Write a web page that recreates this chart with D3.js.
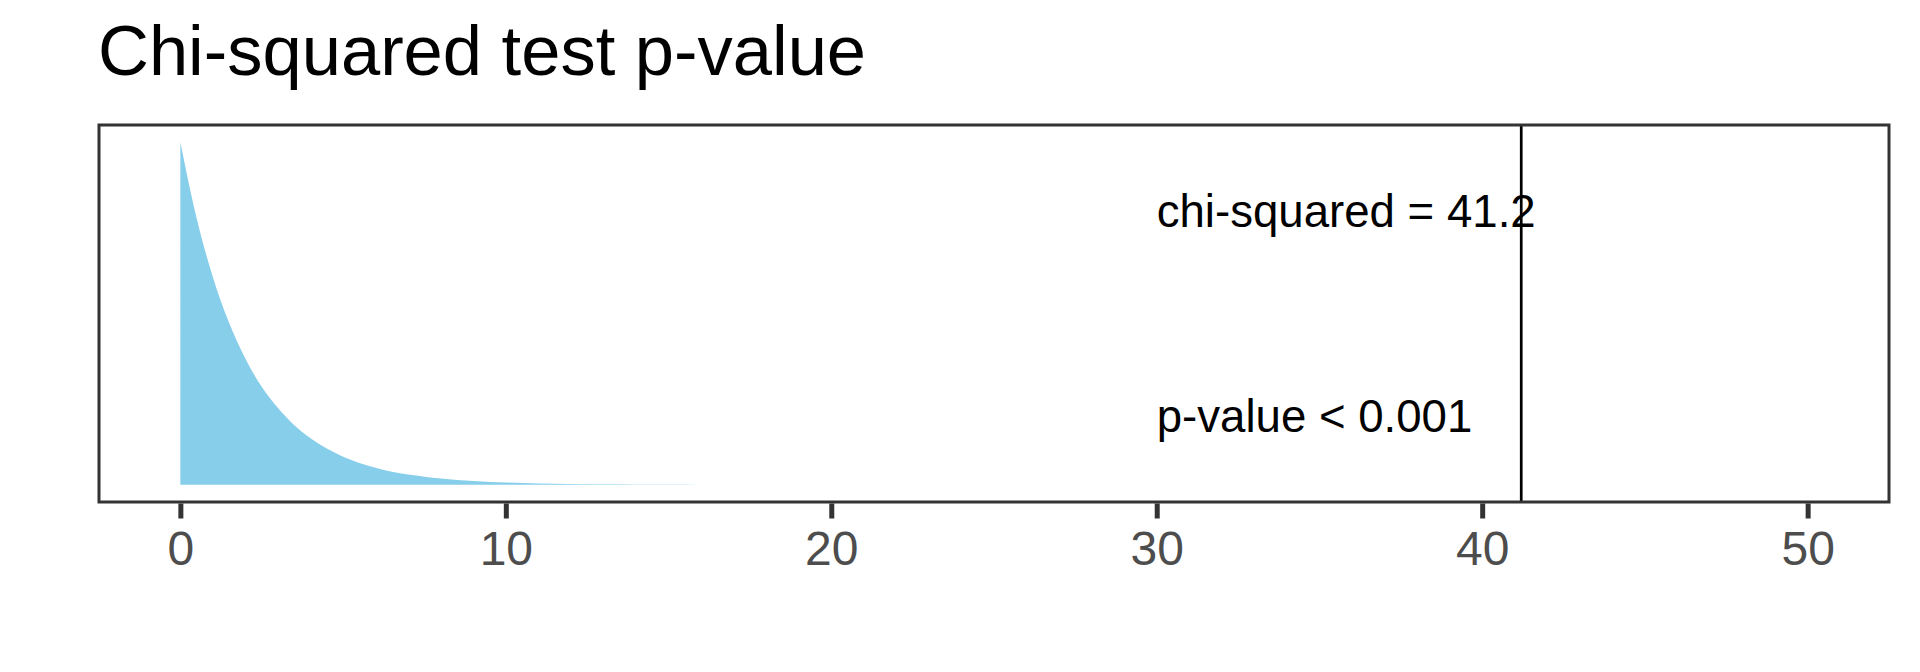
<!DOCTYPE html>
<html>
<head>
<meta charset="utf-8">
<script src="https://cdn.jsdelivr.net/npm/d3@7"></script>
<style>
  html, body { margin: 0; padding: 0; background: #fff; }
  svg { display: block; font-family: "Liberation Sans", Arial, Helvetica, sans-serif; }
</style>
</head>
<body>
<svg id="chart" width="1920" height="672"></svg>
<script>
// ---- data ----
const titleText = "Chi-squared test p-value";
const densityX = [0, 0.5, 1, 1.5, 2, 2.5, 3, 3.5, 4, 4.5, 5, 5.5, 6, 6.5, 7, 7.5, 8, 8.5, 9, 9.5, 10, 11, 12, 13, 14, 15, 16, 17, 18, 20, 25, 30, 40, 50];
const densityY = [0.5, 0.389, 0.303, 0.236, 0.184, 0.143, 0.112, 0.087, 0.068, 0.053, 0.041, 0.032, 0.025, 0.019, 0.015, 0.012, 0.0092, 0.0071, 0.0056, 0.0043, 0.0034, 0.0021, 0.0013, 0.0009, 0.0006, 0.0004, 0.0003, 0.0002, 0.00012, 0.00004, 0, 0, 0, 0];
const chiSquared = 41.2;
const annotations = [
  { x: 30, y: 0.4, label: "chi-squared = 41.2" },
  { x: 30, y: 0.1, label: "p-value < 0.001" }
];
const xTicks = [0, 10, 20, 30, 40, 50];
const xDomain = [-2.5, 52.5];
const yDomain = [-0.025, 0.525];

// ---- layout ----
const panel = { left: 99, right: 1889, top: 125, bottom: 502 };
const svg = d3.select("#chart");

const x = d3.scaleLinear().domain(xDomain).range([panel.left, panel.right]);
const y = d3.scaleLinear().domain(yDomain).range([panel.bottom, panel.top]);

const data = densityX.map((d, i) => ({ x: d, y: densityY[i] }));

// title
svg.append("text")
  .attr("x", 98)
  .attr("y", 75)
  .attr("font-size", 70.5)
  .attr("fill", "#000")
  .text(titleText);

// clip
svg.append("defs").append("clipPath").attr("id", "clip")
  .append("rect")
  .attr("x", panel.left).attr("y", panel.top)
  .attr("width", panel.right - panel.left)
  .attr("height", panel.bottom - panel.top);

const g = svg.append("g").attr("clip-path", "url(#clip)");

// density area
const area = d3.area()
  .x(d => x(d.x))
  .y0(y(0))
  .y1(d => y(d.y))
  .curve(d3.curveMonotoneX);

g.append("path")
  .datum(data)
  .attr("d", area)
  .attr("fill", "#87CEEB");

// vertical line at statistic
g.append("line")
  .attr("x1", x(chiSquared)).attr("x2", x(chiSquared))
  .attr("y1", panel.top).attr("y2", panel.bottom)
  .attr("stroke", "#000")
  .attr("stroke-width", 2.7);

// annotations
g.selectAll("text.ann")
  .data(annotations)
  .enter().append("text")
  .attr("class", "ann")
  .attr("x", d => x(d.x))
  .attr("y", d => y(d.y))
  .attr("dy", "0.35em")
  .attr("font-size", 45.6)
  .attr("fill", "#000")
  .text(d => d.label);

// panel border
svg.append("rect")
  .attr("x", panel.left).attr("y", panel.top)
  .attr("width", panel.right - panel.left)
  .attr("height", panel.bottom - panel.top)
  .attr("fill", "none")
  .attr("stroke", "#333333")
  .attr("stroke-width", 3);

// x axis
const axis = d3.axisBottom(x)
  .tickValues(xTicks)
  .tickSize(15)
  .tickPadding(12.4)
  .tickFormat(d3.format("d"));

const ax = svg.append("g")
  .attr("transform", `translate(0,${panel.bottom + 1.5})`)
  .call(axis);
ax.select(".domain").remove();
ax.selectAll(".tick line")
  .attr("stroke", "#333333")
  .attr("stroke-width", 5);
ax.selectAll(".tick text")
  .attr("fill", "#4D4D4D")
  .attr("font-size", 48)
  .attr("font-family", "Liberation Sans, Arial, sans-serif");
</script>
</body>
</html>
